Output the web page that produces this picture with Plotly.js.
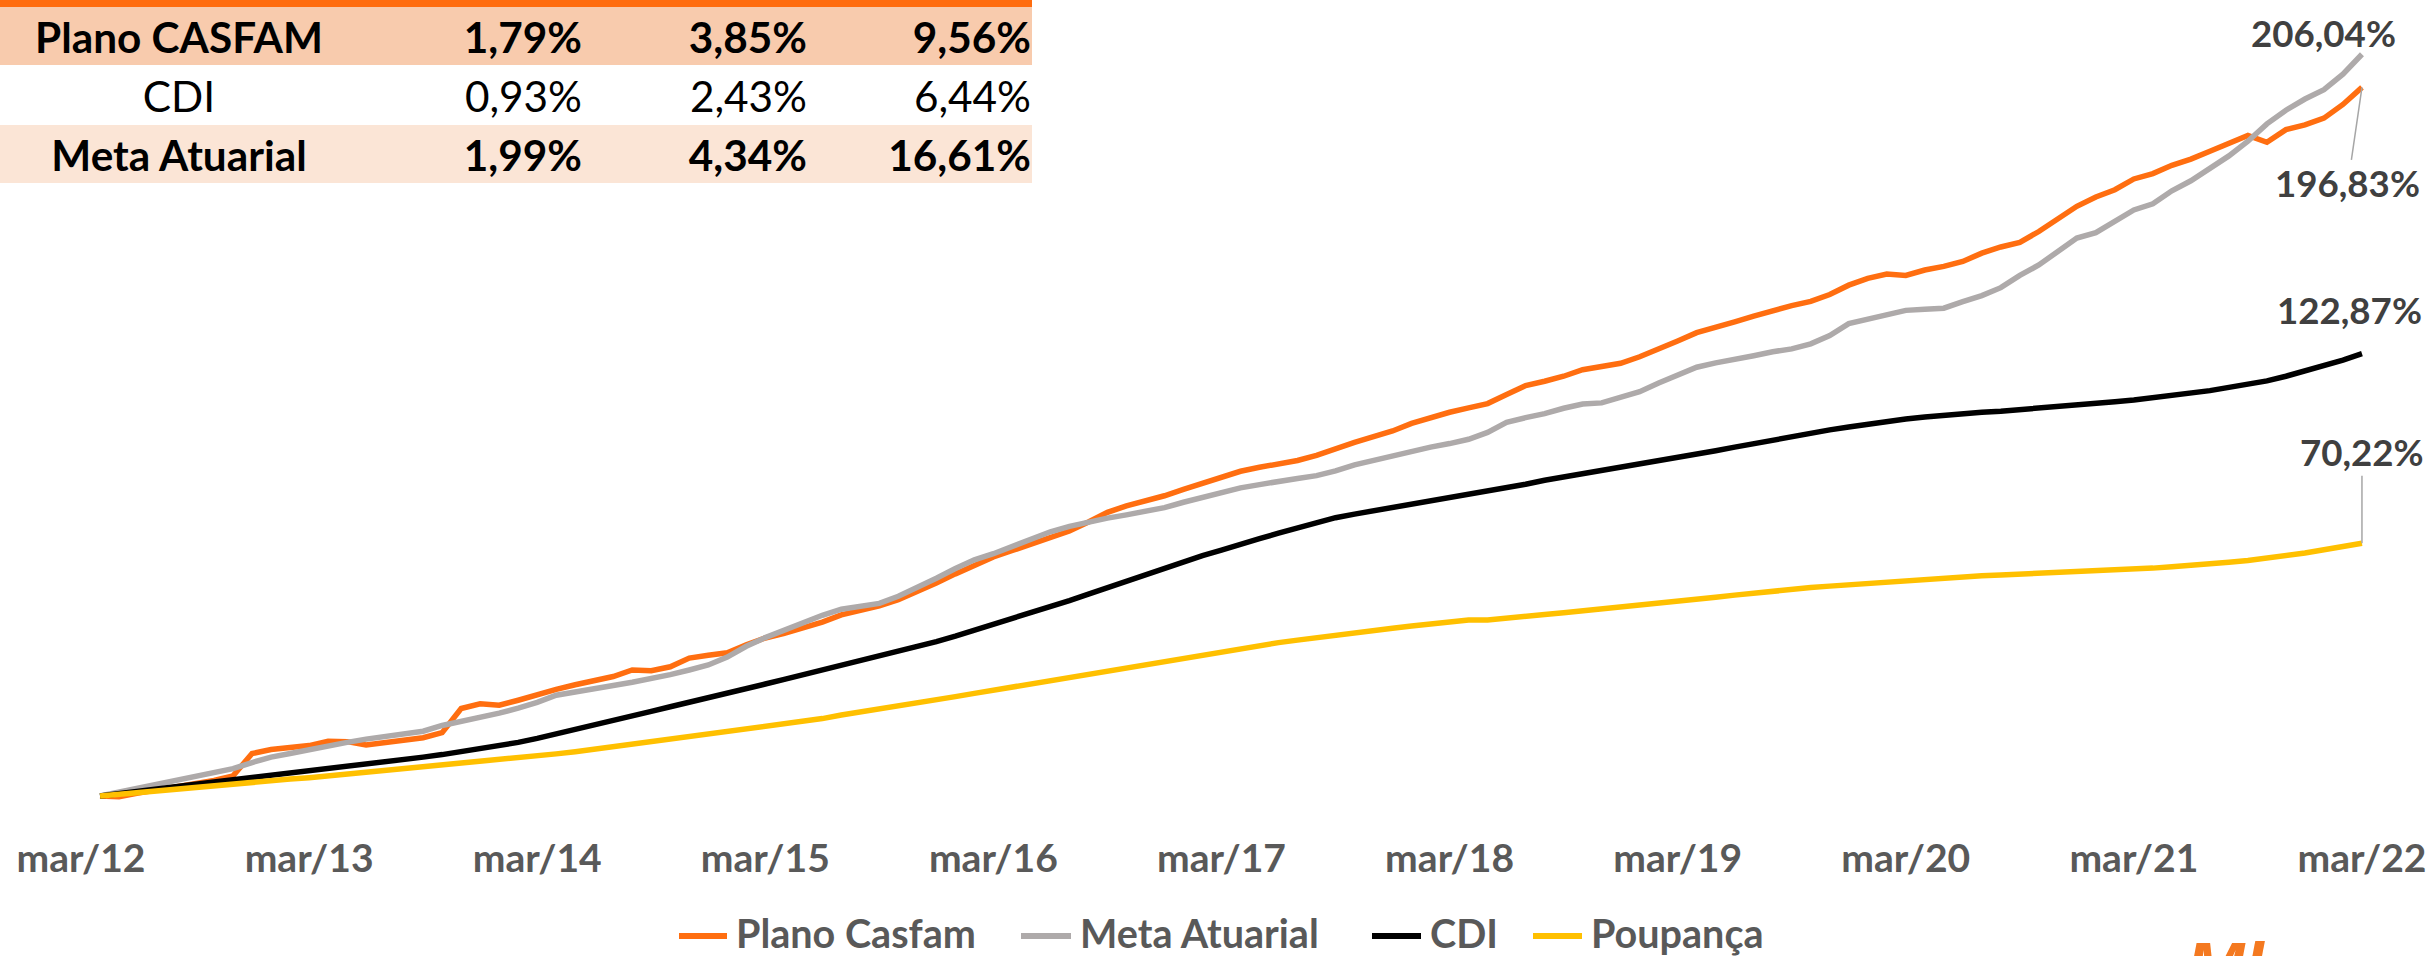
<!DOCTYPE html>
<html>
<head>
<meta charset="utf-8">
<script src="https://cdn.plot.ly/plotly-3.0.1.min.js"></script>
<style>
html,body{margin:0;padding:0;width:2433px;height:956px;overflow:hidden;background:#ffffff;}
#chart{position:absolute;left:0;top:0;width:2433px;height:956px;}
#tbl{position:absolute;left:0;top:0;width:1032px;font-family:Lato,'Liberation Sans',sans-serif;color:#000;}
#tbl .bar{height:7px;background:#FF6C0E;}
#tbl .row{position:relative;width:1032px;}
#tbl .cell{position:absolute;top:0;height:100%;display:flex;align-items:center;}
#foot{position:absolute;left:2186px;top:933px;font-family:'Liberation Sans','DejaVu Sans',sans-serif;font-weight:bold;font-style:italic;font-size:70px;line-height:1;color:#F47920;white-space:nowrap;}
</style>
</head>
<body>
<div id="chart"></div>
<div id="tbl"><div class="bar"></div></div>
<div id="foot">Ml</div>
<script>
// ---- data (monthly, abr/12 .. mar/22; cumulative %) ----
const tickLabels = ['mar/12','mar/13','mar/14','mar/15','mar/16','mar/17','mar/18','mar/19','mar/20','mar/21','mar/22'];

const planoCasfam = [
  0, -0.2, 0.8, 1.6, 2.5, 3.3, 4.3, 5.6, 11.8, 12.9,
  13.4, 14.0, 15.2, 15.1, 14.2, 14.8, 15.3, 16.2, 17.6, 24.3,
  25.6, 25.2, 26.6, 28.2, 29.6, 30.9, 32.0, 33.2, 35.0, 34.8,
  35.9, 38.3, 39.1, 39.8, 42.0, 43.9, 45.2, 46.6, 48.3, 50.3,
  51.5, 52.8, 54.5, 56.7, 59.2, 61.7, 64.2, 66.4, 68.2, 70.0,
  71.7, 73.6, 76.1, 78.8, 80.6, 81.9, 83.4, 85.2, 87.0, 88.5,
  90.2, 91.3, 92.2, 93.2, 94.6, 96.6, 98.2, 99.8, 101.4, 103.5,
  105.2, 106.6, 107.8, 109.0, 111.5, 114.0, 115.2, 116.6, 118.4, 119.4,
  120.2, 122.0, 124.4, 126.4, 128.7, 130.4, 131.7, 133.3, 134.8, 136.2,
  137.4, 139.3, 141.9, 143.8, 145.0, 144.6, 146.1, 147.1, 148.5, 150.8,
  152.5, 153.8, 156.8, 160.3, 163.8, 166.4, 168.4, 171.4, 172.9, 175.2,
  176.9, 179.1, 181.2, 183.5, 181.6, 185.1, 186.4, 188.3, 192.1, 196.83
];

const metaAtuarial = [
  0, 1.1, 2.2, 3.3, 4.4, 5.5, 6.7, 7.6, 9.3, 10.8,
  11.8, 12.9, 13.9, 14.9, 15.8, 16.5, 17.2, 18.0, 19.6, 20.7,
  21.8, 23.0, 24.4, 26.0, 28.0, 29.0, 30.0, 30.7, 31.6, 32.6,
  33.7, 35.0, 36.4, 38.6, 41.6, 44.0, 46.2, 48.3, 50.2, 51.9,
  52.6, 53.5, 55.5, 57.9, 60.5, 63.2, 65.6, 67.3, 69.3, 71.6,
  73.4, 74.9, 76.2, 77.2, 78.1, 79.0, 80.1, 81.6, 83.0, 84.2,
  85.6, 86.5, 87.2, 88.2, 89.0, 90.3, 92.0, 93.2, 94.5, 95.9,
  96.9, 97.9, 99.1, 101.0, 103.8, 105.1, 106.2, 107.7, 108.9, 109.2,
  110.6, 112.3, 114.7, 117.0, 119.1, 120.3, 121.2, 122.3, 123.4, 124.2,
  125.6, 127.9, 131.2, 132.5, 133.8, 134.9, 135.2, 135.5, 137.3, 139.0,
  141.2, 144.6, 147.5, 151.2, 155.0, 156.5, 159.8, 162.8, 164.5, 168.1,
  170.9, 174.3, 177.8, 181.9, 186.7, 190.5, 193.6, 196.2, 200.5, 206.04
];

const cdi = [
  0, 0.7, 1.4, 2.1, 2.7, 3.3, 3.9, 4.5, 5.1, 5.7,
  6.3, 6.9, 7.5, 8.1, 8.7, 9.4, 10.1, 10.8, 11.5, 12.3,
  13.1, 13.9, 14.9, 16.0, 17.2, 18.4, 19.7, 21.0, 22.2, 23.5,
  24.8, 26.0, 27.2, 28.4, 29.9, 31.1, 32.4, 33.7, 34.9, 36.3,
  37.6, 38.9, 40.2, 41.5, 42.9, 44.4, 46.0, 47.6, 49.3, 50.9,
  52.6, 54.3, 56.1, 57.9, 59.7, 61.6, 63.5, 65.2, 66.8, 68.3,
  70.1, 71.5, 73.0, 74.5, 75.9, 77.3, 78.3, 79.2, 80.1, 81.0,
  81.9, 82.8, 83.7, 84.6, 85.5, 86.6, 87.7, 88.6, 89.3, 90.2,
  91.1, 92.1, 93.1, 94.0, 94.9, 95.9, 96.9, 97.9, 99.0, 100.0,
  100.9, 101.7, 102.5, 103.3, 104.0, 104.7, 105.3, 105.8, 106.2, 106.6,
  106.9, 107.3, 107.7, 108.0, 108.4, 108.9, 109.5, 110.0, 110.6, 111.1,
  111.8, 112.6, 113.5, 114.4, 115.3, 116.6, 118.0, 119.5, 121.1, 122.87
];

const poupanca = [
  0, 0.5, 1.0, 1.5, 2.0, 2.4, 2.9, 3.3, 3.8, 4.2,
  4.7, 5.1, 5.6, 6.0, 6.5, 6.9, 7.4, 7.9, 8.4, 8.9,
  9.5, 10.0, 10.6, 11.2, 11.7, 12.3, 13.0, 13.7, 14.4, 15.2,
  16.0, 16.6, 17.2, 17.8, 18.6, 19.2, 20.0, 20.7, 21.5, 22.5,
  23.3, 24.2, 25.1, 26.0, 26.8, 27.6, 28.5, 29.4, 30.3, 31.2,
  32.1, 33.0, 33.9, 34.8, 35.7, 36.6, 37.5, 38.4, 39.3, 40.1,
  41.1, 41.9, 42.6, 43.3, 44.0, 44.8, 45.4, 46.0, 46.6, 47.2,
  47.8, 48.4, 48.9, 48.9, 49.5, 50.0, 50.4, 50.9, 51.4, 51.9,
  52.4, 52.9, 53.4, 54.0, 54.6, 55.2, 55.8, 56.4, 57.0, 57.5,
  57.9, 58.3, 58.7, 59.1, 59.5, 59.8, 60.1, 60.4, 61.0, 61.2,
  61.4, 61.6, 61.8, 62.0, 62.2, 62.5, 62.7, 63.0, 63.3, 63.7,
  64.0, 64.4, 64.9, 65.4, 66.0, 66.7, 67.5, 68.4, 69.3, 70.22
];

const seriesNames = ['Plano Casfam', 'Meta Atuarial', 'CDI', 'Poupança'];
const endLabels = ['196,83%', '206,04%', '122,87%', '70,22%'];

const tableNames = ['Plano CASFAM', 'CDI', 'Meta Atuarial'];
const tableCol1 = ['1,79%', '0,93%', '1,99%'];
const tableCol2 = ['3,85%', '2,43%', '4,34%'];
const tableCol3 = ['9,56%', '6,44%', '16,61%'];

// ---- helpers ----
const FAM = 'Lato';
function fitSize(text, weight, target) {
  const ctx = document.createElement('canvas').getContext('2d');
  ctx.font = weight + ' 100px ' + FAM;
  return 100 * target / ctx.measureText(text).width;
}
const tickSize = fitSize('mar/22', 'bold', 129);
const legendSize = fitSize('Plano Casfam', 'bold', 240);
const labelSize = fitSize('206,04%', 'bold', 145);
const tableSize = fitSize('Plano CASFAM', 'bold', 288);

// ---- table ----
(function buildTable(){
  const tbl = document.getElementById('tbl');
  const rowStyle = [
    {h: 58, bg: '#F8CBAD', bold: true},
    {h: 60, bg: '#FFFFFF', bold: false},
    {h: 58, bg: '#FBE5D6', bold: true}
  ];
  const cols = [
    {left: 0, width: 358, align: 'center'},
    {left: 358, width: 224, align: 'flex-end'},
    {left: 582, width: 225, align: 'flex-end'},
    {left: 807, width: 224, align: 'flex-end'}
  ];
  tableNames.forEach((name, r) => {
    const row = document.createElement('div');
    row.className = 'row';
    row.style.height = rowStyle[r].h + 'px';
    row.style.background = rowStyle[r].bg;
    const vals = [name, tableCol1[r], tableCol2[r], tableCol3[r]];
    vals.forEach((v, c) => {
      const cell = document.createElement('div');
      cell.className = 'cell';
      cell.style.left = cols[c].left + 'px';
      cell.style.width = cols[c].width + 'px';
      cell.style.justifyContent = cols[c].align;
      cell.style.fontWeight = rowStyle[r].bold ? 'bold' : 'normal';
      cell.style.fontSize = tableSize.toFixed(1) + 'px';
      cell.textContent = v;
      row.appendChild(cell);
    });
    tbl.appendChild(row);
  });
})();

// ---- chart ----
const W = 2433, H = 956, PLOT_H = 820;
const xMonth = planoCasfam.map((_, k) => k + 1);   // 1 = abr/12 ... 120 = mar/22
const tickVals = tickLabels.map((_, k) => k * 12);
const colors = ['#FF6E10', '#AEAAAA', '#000000', '#FFC000'];
const values = [planoCasfam, metaAtuarial, cdi, poupanca];

const traces = values.map((ys, k) => ({
  type: 'scatter',
  mode: 'lines',
  name: seriesNames[k],
  x: xMonth,
  y: ys,
  line: {color: colors[k], width: 5.5},
  hoverinfo: 'skip',
  showlegend: false
}));

const last = xMonth[xMonth.length - 1];
const n = planoCasfam.length - 1;
const labelFont = {family: FAM, size: labelSize, color: '#404040', weight: 'bold'};
const annotations = [
  {x: last, y: metaAtuarial[n], xref: 'x', yref: 'y', text: endLabels[1], showarrow: false,
   xshift: -38, yshift: 21, font: labelFont},
  {x: last, y: planoCasfam[n], xref: 'x', yref: 'y', text: endLabels[0], showarrow: true,
   arrowhead: 0, arrowwidth: 1.5, arrowcolor: '#A6A6A6', ax: -14, ay: 96, font: labelFont},
  {x: last, y: cdi[n], xref: 'x', yref: 'y', text: endLabels[2], showarrow: false,
   xshift: -12, yshift: 44, font: labelFont},
  {x: last, y: poupanca[n], xref: 'x', yref: 'y', text: endLabels[3], showarrow: true,
   arrowhead: 0, arrowwidth: 1.5, arrowcolor: '#A6A6A6', ax: 0, ay: -91, font: labelFont}
];

// manual legend (pixel layout converted to paper coordinates)
const px2x = p => p / W;
const py2y = p => (PLOT_H - p) / PLOT_H;
const legendSample = [[676, 730], [1018, 1074], [1369, 1424], [1530, 1585]];
const legendTextX = [734, 1078, 1428, 1589];
const shapes = [];
seriesNames.forEach((nm, k) => {
  shapes.push({type: 'line', xref: 'paper', yref: 'paper',
    x0: px2x(legendSample[k][0] + 3), x1: px2x(legendSample[k][1] - 3),
    y0: py2y(936), y1: py2y(936),
    line: {color: colors[k], width: 6}});
  annotations.push({xref: 'paper', yref: 'paper', x: px2x(legendTextX[k]), y: py2y(933),
    xanchor: 'left', yanchor: 'middle', showarrow: false, text: nm,
    font: {family: FAM, size: legendSize, color: '#595959', weight: 'bold'}});
});

const layout = {
  width: W,
  height: H,
  margin: {l: 0, r: 0, t: 0, b: H - PLOT_H},
  paper_bgcolor: 'rgba(0,0,0,0)',
  plot_bgcolor: 'rgba(0,0,0,0)',
  showlegend: false,
  xaxis: {
    range: [-81 / 19.008, (W - 81) / 19.008],
    showgrid: false, zeroline: false, showline: false,
    tickmode: 'array', tickvals: tickVals, ticktext: tickLabels,
    ticks: '', ticklabelstandoff: 12,
    tickfont: {family: FAM, size: tickSize, color: '#595959', weight: 'bold'},
    fixedrange: true
  },
  yaxis: {
    range: [(796 - PLOT_H) / 3.6, 796 / 3.6],
    visible: false, showgrid: false, zeroline: false,
    fixedrange: true
  },
  shapes: shapes,
  annotations: annotations
};

Plotly.newPlot('chart', traces, layout, {displayModeBar: false, staticPlot: true});
</script>
</body>
</html>
